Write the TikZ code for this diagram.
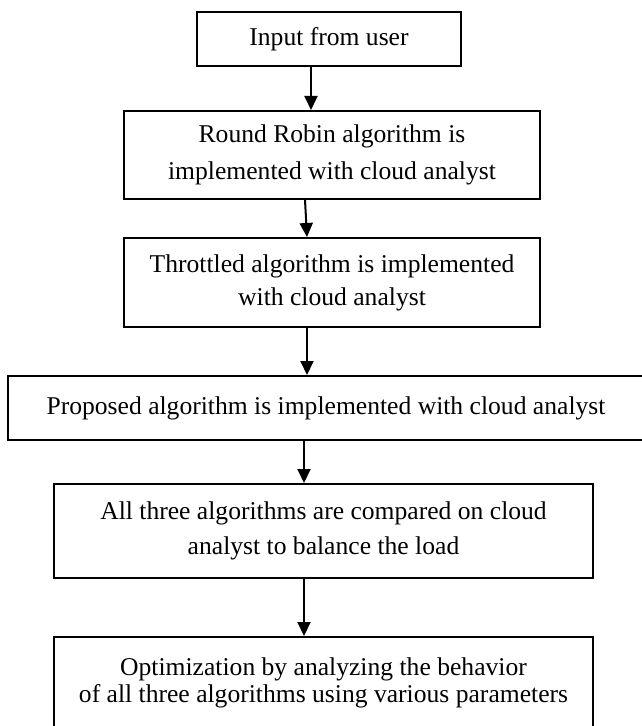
\documentclass[tikz,border=0pt]{standalone}
\usepackage{fontspec}
\setmainfont{Liberation Serif}
\usetikzlibrary{arrows.meta}

\begin{document}
\begin{tikzpicture}[x=0.5pt, y=-0.5pt]
   \tikzstyle{every node}=[draw, line width=1pt, align=center, inner sep=0pt, font=\fontsize{12.8}{17}\selectfont]
   \tikzstyle{flow}=[line width=1pt, -{Triangle[length=7pt, width=6.5pt]}]
   \useasboundingbox (0,0) rectangle (641,726);

\node[minimum width=132pt, minimum height=27pt] (input) at (329,39) {Input from user};
\node[minimum width=208pt, minimum height=44pt, font=\fontsize{12.8}{18.5}\selectfont] (robin) at (332,155) {Round Robin algorithm is\\ implemented with cloud analyst};
\node[minimum width=208pt, minimum height=44.5pt, font=\fontsize{12.8}{16.5}\selectfont] (throttled) at (332,282.5) {Throttled algorithm is implemented\\ with cloud analyst};
\node[minimum width=318pt, minimum height=32pt] (proposed) at (326,408) {Proposed algorithm is implemented with cloud analyst};
\node[minimum width=269.5pt, minimum height=47pt, font=\fontsize{12.8}{17.5}\selectfont] (compare) at (323.5,531) {All three algorithms are compared on cloud\\ analyst to balance the load};
\node[minimum width=269.5pt, minimum height=45.5pt, font=\fontsize{12.8}{13.5}\selectfont] (optimize) at (323.5,682.5) {Optimization by analyzing the behavior\\ of all three algorithms using various parameters};

\draw[flow] ([xshift=-9pt]input.south) -- ([xshift=-10.5pt]robin.north);
\draw[flow] ([xshift=-13.5pt]robin.south) -- ([xshift=-12.5pt]throttled.north);
\draw[flow] ([xshift=-12.5pt]throttled.south) -- ([xshift=-9.5pt]proposed.north);
\draw[flow] ([xshift=-11pt]proposed.south) -- ([xshift=-9.75pt]compare.north);
\draw[flow] ([xshift=-9.75pt]compare.south) -- ([xshift=-9.75pt]optimize.north);

\end{tikzpicture}
\end{document}
